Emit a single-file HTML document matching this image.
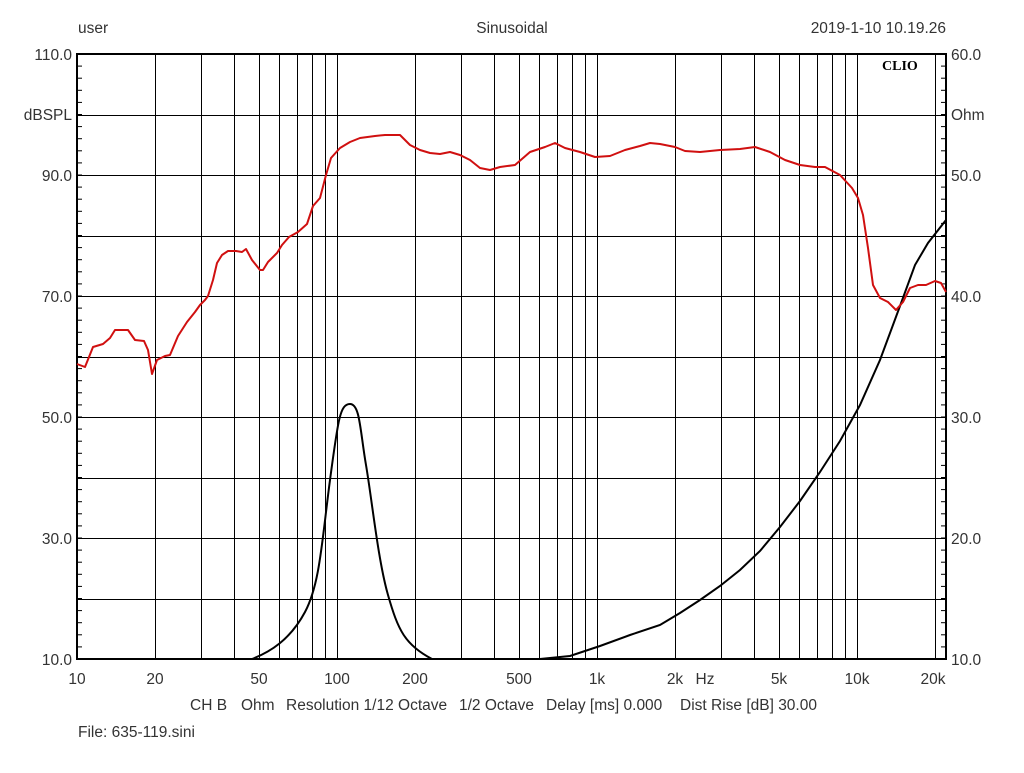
<!DOCTYPE html>
<html><head><meta charset="utf-8"><style>
body{margin:0;background:#fff;width:1024px;height:768px;overflow:hidden}
text{font-family:"Liberation Sans",sans-serif;font-size:15.5px;fill:#333;white-space:pre}
</style></head><body>
<svg width="1024" height="768" xmlns="http://www.w3.org/2000/svg">
<rect width="1024" height="768" fill="#fff"/>
<g stroke="#000" stroke-width="1" id="grid"></g>
<text x="78" y="33">user</text>
<text x="512" y="33" text-anchor="middle">Sinusoidal</text>
<text x="946" y="33" text-anchor="end">2019-1-10 10.19.26</text>
<text x="882" y="70" style="font-family:'Liberation Serif',serif;font-weight:bold;font-size:14px;fill:#000">CLIO</text>
<g text-anchor="end">
<text x="72" y="60">110.0</text><text x="72" y="120">dBSPL</text><text x="72" y="181">90.0</text>
<text x="72" y="302">70.0</text><text x="72" y="423">50.0</text><text x="72" y="544">30.0</text><text x="72" y="665">10.0</text>
</g>
<g>
<text x="951" y="60">60.0</text><text x="951" y="120">Ohm</text><text x="951" y="181">50.0</text>
<text x="951" y="302">40.0</text><text x="951" y="423">30.0</text><text x="951" y="544">20.0</text><text x="951" y="665">10.0</text>
</g>
<g text-anchor="middle">
<text x="77" y="684">10</text><text x="155" y="684">20</text><text x="259" y="684">50</text><text x="337" y="684">100</text>
<text x="415" y="684">200</text><text x="519" y="684">500</text><text x="597" y="684">1k</text><text x="675" y="684">2k</text>
<text x="705" y="684">Hz</text><text x="779" y="684">5k</text><text x="857" y="684">10k</text><text x="933" y="684">20k</text>
</g>
<text x="190" y="710" xml:space="preserve"><tspan x="190">CH B</tspan><tspan x="241">Ohm</tspan><tspan x="286">Resolution 1/12 Octave</tspan><tspan x="459">1/2 Octave</tspan><tspan x="546">Delay [ms] 0.000</tspan><tspan x="680">Dist Rise [dB] 30.00</tspan></text>
<text x="78" y="737">File: 635-119.sini</text>
<path fill="none" stroke="#000" stroke-width="2" d="M252,659 C270,652 290,640 305,612 S322,540 330,480 S340,404 350,404 S360,430 366,465 S378,560 388,595 S405,645 432,659"/>
<polyline fill="none" stroke="#000" stroke-width="2" points="540,659 570,656 600,646 630,635 660,625 680,613 700,600 720,586 740,570 760,551 780,527 800,501 820,472 840,441 860,405 880,360 900,306 915,265 928,243 946,220"/>
<polyline fill="none" stroke="#d01010" stroke-width="2" stroke-linejoin="round" points="77,364 85,367 93,347 103,344 110,338 115,330 128,330 135,340 144,341 148,350 152,374 157,360 165,356 170,355 178,336 187,322 195,312 200,305 205,300 208,296 213,280 217,263 222,255 228,251 236,251 242,252 246,249 252,260 260,270 263,270 268,262 277,253 282,245 289,237 298,232 307,224 313,206 320,198 326,175 331,158 340,148 350,142 360,138 375,136 385,135 400,135 410,145 420,150 430,153 440,154 450,152 460,155 470,160 480,168 490,170 500,167 515,165 530,152 545,147 555,143 565,148 580,152 595,157 610,156 625,150 640,146 650,143 660,144 675,147 685,151 700,152 720,150 740,149 755,147 770,152 785,160 800,165 815,167 825,167 840,175 852,188 858,198 863,215 868,248 873,285 880,298 888,302 896,310 903,302 910,288 918,285 926,285 935,281 941,283 946,292"/>
</svg>
<script>
(function(){
var g=document.getElementById('grid'),ns='http://www.w3.org/2000/svg';
function L(x1,y1,x2,y2,w){var l=document.createElementNS(ns,'line');l.setAttribute('x1',x1);l.setAttribute('y1',y1);l.setAttribute('x2',x2);l.setAttribute('y2',y2);if(w)l.setAttribute('stroke-width',w);g.appendChild(l);}
function X(f){return 77+260*Math.log10(f/10);}
var fs=[];for(var d=10;d<=10000;d*=10)for(var k=1;k<10;k++)fs.push(d*k);fs.push(20000);
fs.forEach(function(f){var x=Math.round(X(f))+0.5;if(x>78&&x<946)L(x,54,x,659);});
for(var i=1;i<10;i++){var y=Math.round(54+i*60.5)+0.5;L(77,y,946,y);}
for(var y=54;y<=659;y+=12.1){L(77,y,82,y);L(941,y,946,y);}
var r=document.createElementNS(ns,'rect');r.setAttribute('x',77);r.setAttribute('y',54);r.setAttribute('width',869);r.setAttribute('height',605);r.setAttribute('fill','none');r.setAttribute('stroke-width',2);g.appendChild(r);
})();
</script>
</body></html>
